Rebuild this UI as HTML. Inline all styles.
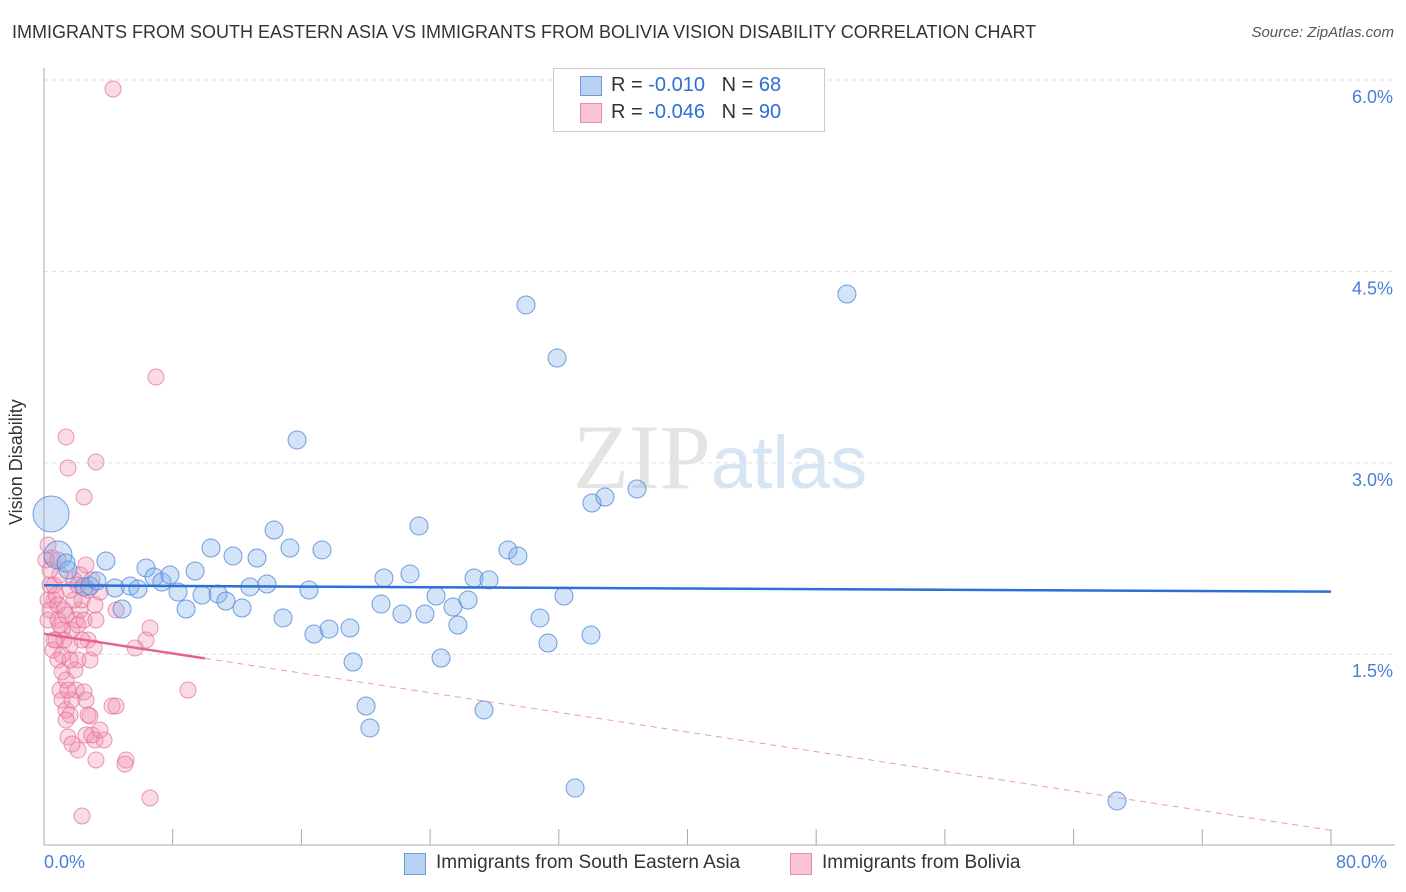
<!DOCTYPE html>
<html><head><meta charset="utf-8">
<style>
body{margin:0;background:#fff;font-family:"Liberation Sans",sans-serif;}
#wrap{position:relative;width:1406px;height:892px;overflow:hidden;}
.t{position:absolute;white-space:nowrap;}
</style></head><body>
<div id="wrap">
<div class="t" style="left:12px;top:22px;font-size:18px;color:#333">IMMIGRANTS FROM SOUTH EASTERN ASIA VS IMMIGRANTS FROM BOLIVIA VISION DISABILITY CORRELATION CHART</div>
<div class="t" style="right:12px;top:24px;font-size:15px;color:#555;font-style:italic">Source: ZipAtlas.com</div>
<svg id="svg" width="1406" height="892" style="position:absolute;left:0;top:0"></svg>
</div>
<script>
const xTicks=[0,8,16,24,32,40,48,56,64,72,80];
const yTicks=[1.5,3.0,4.5,6.0];
const yTickLabels=["1.5%","3.0%","4.5%","6.0%"];
const bluePx=[[51,514],[58,555],[68,570],[66,563],[84,587],[90,586],[97,581],[106,561],[115,588],[122,609],[130,586],[138,589],[146,568],[154,577],[162,582],[170,575],[178,592],[186,609],[195,571],[202,595],[211,548],[218,594],[226,601],[233,556],[242,608],[250,587],[257,558],[267,584],[274,530],[283,618],[290,548],[297,440],[309,590],[314,634],[322,550],[329,629],[350,628],[353,662],[366,706],[370,728],[381,604],[384,578],[402,614],[410,574],[419,526],[425,614],[436,596],[441,658],[453,607],[458,625],[468,600],[474,578],[484,710],[489,580],[508,550],[518,556],[526,305],[540,618],[548,643],[557,358],[564,596],[575,788],[592,503],[591,635],[605,497],[637,489],[847,294],[1117,801]];
const pinkPx=[[113,89],[156,377],[66,437],[68,468],[96,462],[84,497],[48,545],[52,558],[50,585],[54,600],[48,620],[56,640],[53,650],[58,660],[62,672],[60,690],[62,700],[66,710],[70,715],[72,630],[76,620],[80,610],[82,600],[88,590],[92,580],[86,565],[100,592],[95,605],[74,600],[64,610],[70,645],[78,660],[66,680],[76,690],[84,692],[90,716],[68,737],[78,750],[86,735],[95,740],[104,740],[96,760],[112,706],[116,706],[126,760],[125,764],[150,798],[82,816],[188,690],[146,640],[150,628],[135,648],[90,660],[88,640],[94,648],[48,600],[50,610],[58,620],[62,630],[70,590],[74,580],[80,575],[56,595],[60,625],[64,640],[72,700],[75,670],[68,690],[54,585],[58,605],[66,615],[78,625],[82,640],[70,660],[60,575],[50,570],[46,560],[54,640],[62,655],[86,700],[88,715],[92,735],[66,720],[72,744],[100,730],[116,610],[84,620],[96,620],[58,560],[78,585]];
// data values derived (percent units)
const blueX=bluePx.map(p=>+((p[0]-44)/1287*80).toFixed(2));
const blueY=bluePx.map(p=>+(6-(p[1]-80)/127.6).toFixed(3));
const pinkX=pinkPx.map(p=>+((p[0]-44)/1287*80).toFixed(2));
const pinkY=pinkPx.map(p=>+(6-(p[1]-80)/127.6).toFixed(3));
const blueSizes={0:18,1:14};
const blueTrend=[2.04,1.99];
const pinkTrend=[1.66,0.12];

const X=v=>44+v/80*1287;
const Y=v=>80+(6-v)*127.6;
const svg=document.getElementById('svg');
const NS='http://www.w3.org/2000/svg';
function mk(tag,attrs){const e=document.createElementNS(NS,tag);for(const k in attrs)e.setAttribute(k,attrs[k]);svg.appendChild(e);return e;}
yTicks.forEach((v,i)=>{
 const g=mk('line',{x1:44,x2:1395,y1:Y(v),y2:Y(v),stroke:'#ddd','stroke-dasharray':'4,4'});
 
 
 const t=mk('text',{x:1393,y:Y(v)+23,'text-anchor':'end','font-size':18,fill:'#4a7fd4','font-family':'Liberation Sans'});
 t.textContent=yTickLabels[i];
 
 
});
const ax=mk('line',{x1:44,x2:44,y1:68,y2:845,stroke:'#aaa'});


const bx=mk('line',{x1:44,x2:1395,y1:845,y2:845,stroke:'#aaa'});


xTicks.forEach(v=>{
 const l=mk('line',{x1:X(v),x2:X(v),y1:829,y2:845,stroke:'#aaa'});
 
 
});
const wm=mk('text',{x:720,y:488,'text-anchor':'middle','font-size':92,fill:'#e4e4e4','font-family':'Liberation Serif'});
wm.innerHTML='ZIP<tspan fill="#d6e4f4" font-family="Liberation Sans" font-size="74">atlas</tspan>';


pinkX.forEach((x,i)=>{
 const c=mk('circle',{cx:X(x),cy:Y(pinkY[i]),r:8,fill:'rgba(242,150,180,0.35)',stroke:'rgba(226,110,150,0.7)','stroke-width':1});
 
 
});
blueX.forEach((x,i)=>{
 const c=mk('circle',{cx:X(x),cy:Y(blueY[i]),r:blueSizes[i]||9,fill:'rgba(130,175,235,0.35)',stroke:'rgba(80,135,215,0.8)','stroke-width':1});
 
 
});
const bt=mk('line',{x1:X(0),x2:X(80),y1:Y(blueTrend[0]),y2:Y(blueTrend[1]),stroke:'#2c6fd6','stroke-width':2.5});


const pxEnd=10;
const py=v=>pinkTrend[0]+(pinkTrend[1]-pinkTrend[0])*v/80;
const pt=mk('line',{x1:X(0),x2:X(pxEnd),y1:Y(py(0)),y2:Y(py(pxEnd)),stroke:'#e8628e','stroke-width':2.5});


const pd=mk('line',{x1:X(pxEnd),x2:X(80),y1:Y(py(pxEnd)),y2:Y(py(80)),stroke:'#eb9ab4','stroke-width':1,'stroke-dasharray':'6,5'});


</script>
<div class="t" style="left:44px;top:852px;font-size:18px;color:#4a7fd4">0.0%</div>
<div class="t" style="left:1336px;top:852px;font-size:18px;color:#4a7fd4">80.0%</div>
<div class="t" style="left:6px;top:525px;font-size:18px;color:#333;transform:rotate(-90deg);transform-origin:0 0">Vision Disability</div>
<div style="position:absolute;left:553px;top:68px;width:270px;height:62px;border:1px solid #ccc;background:#fff;font-size:20px;color:#333">
 <div class="t" style="left:26px;top:7px;width:20px;height:18px;background:#b9d2f3;border:1px solid #6e9ae0"></div>
 <div class="t" style="left:57px;top:5px">R = <span style="color:#2c6fd6">-0.010</span>&nbsp;&nbsp;&nbsp;N = <span style="color:#2c6fd6">68</span></div>
 <div class="t" style="left:26px;top:34px;width:20px;height:18px;background:#f8c4d4;border:1px solid #e98aa9"></div>
 <div class="t" style="left:57px;top:32px">R = <span style="color:#2c6fd6">-0.046</span>&nbsp;&nbsp;&nbsp;N = <span style="color:#2c6fd6">90</span></div>
</div>
<div class="t" style="left:404px;top:853px;width:20px;height:20px;background:#b9d2f3;border:1px solid #6e9ae0"></div>
<div class="t" style="left:436px;top:852px;font-size:19px;color:#333">Immigrants from South Eastern Asia</div>
<div class="t" style="left:790px;top:853px;width:20px;height:20px;background:#f8c4d4;border:1px solid #e98aa9"></div>
<div class="t" style="left:822px;top:852px;font-size:19px;color:#333">Immigrants from Bolivia</div>
</body></html>
